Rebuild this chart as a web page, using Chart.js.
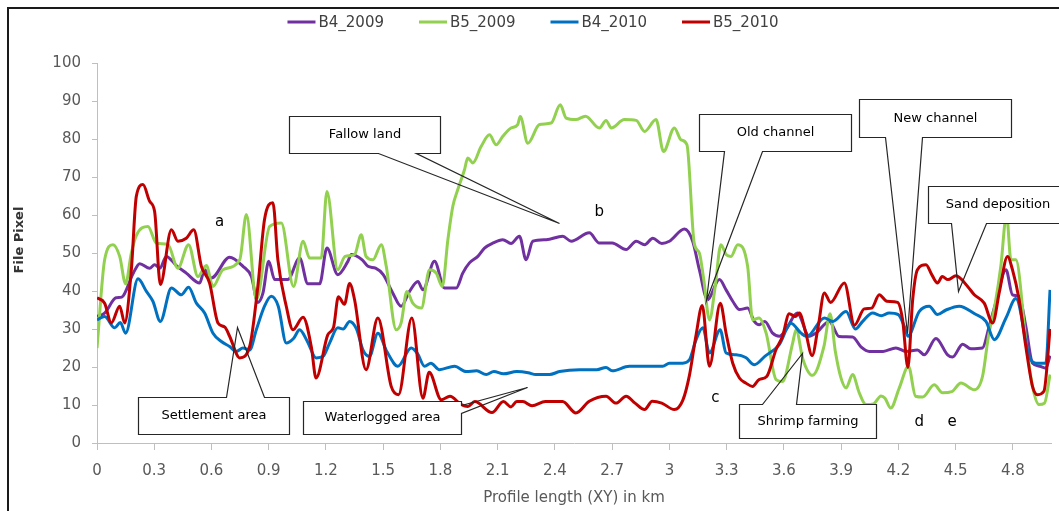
<!DOCTYPE html>
<html><head><meta charset="utf-8">
<script src="https://cdn.jsdelivr.net/npm/chart.js@4.4.1/dist/chart.umd.min.js"></script>
<style>html,body{margin:0;padding:0;background:#fff;}canvas{display:block;}</style>
</head><body>
<canvas id="c" width="1059" height="511"></canvas>
<script>
// ---- data (km, file pixel) ----
const seriesNames = ['B4_2009', 'B5_2009', 'B4_2010', 'B5_2010'];
const xTickValues = [0,0.3,0.6,0.9,1.2,1.5,1.8,2.1,2.4,2.7,3.0,3.3,3.6,3.9,4.2,4.5,4.8];
const yTickStep = 10;

const B4_2009 = [[0,33.3],[0.04,34.2],[0.1,38.2],[0.13,38.4],[0.19,44.7],[0.224,47.2],[0.276,46],[0.302,46.9],[0.33,46],[0.363,49.1],[0.416,46.7],[0.468,44.7],[0.538,42.1],[0.564,45.6],[0.599,43.4],[0.695,48.9],[0.765,46.5],[0.809,43.8],[0.843,37],[0.87,39.5],[0.9,47.8],[0.931,43],[1.0,43],[1.062,48.7],[1.105,41.9],[1.167,41.9],[1.205,51.3],[1.262,44.3],[1.315,47.8],[1.333,49.6],[1.39,48.2],[1.42,46.5],[1.46,46],[1.5,44.3],[1.55,39.5],[1.594,36],[1.638,39.9],[1.682,42.5],[1.708,40.3],[1.769,47.8],[1.821,40.8],[1.883,40.8],[1.917,44.7],[1.952,47.4],[1.996,49.1],[2.031,51.3],[2.074,52.6],[2.127,53.5],[2.17,52.5],[2.214,54.4],[2.249,48.2],[2.284,53.1],[2.354,53.5],[2.441,54.4],[2.485,53.1],[2.58,55.3],[2.633,52.6],[2.7,52.6],[2.773,50.9],[2.826,53.1],[2.87,52.2],[2.913,53.9],[2.96,52.5],[3.0,53.1],[3.079,56.3],[3.122,53.1],[3.157,45.6],[3.2,37.7],[3.262,43],[3.297,40.3],[3.332,37.3],[3.367,35.1],[3.41,35.5],[3.445,32],[3.471,31.1],[3.5,32],[3.541,28.9],[3.576,28.1],[3.611,29.8],[3.67,34.2],[3.733,28.1],[3.768,28.9],[3.838,32],[3.89,28],[3.96,27.9],[4.004,25.3],[4.048,24.1],[4.12,24.1],[4.187,25],[4.24,24.1],[4.3,24.5],[4.336,23.2],[4.397,27.5],[4.458,23.2],[4.484,22.6],[4.537,26],[4.58,24.8],[4.641,25],[4.676,30.7],[4.711,37],[4.764,45.6],[4.798,39],[4.833,38.6],[4.868,30.7],[4.903,21],[4.94,20.2],[4.973,19.7],[4.995,23]];

const B5_2009 = [[0,25],[0.04,48.2],[0.084,52.2],[0.119,49.1],[0.15,41.9],[0.18,50],[0.206,54.6],[0.267,57],[0.311,52.6],[0.372,52.2],[0.424,46],[0.48,52.2],[0.529,43.8],[0.573,46.7],[0.608,41.2],[0.66,45.6],[0.748,48.2],[0.783,60.1],[0.835,37.7],[0.905,57],[0.966,57.9],[1.03,41.2],[1.08,53.1],[1.114,48.7],[1.175,48.7],[1.205,66.2],[1.262,45.6],[1.3,49.1],[1.35,49.6],[1.385,54.8],[1.41,49.1],[1.446,48.2],[1.49,52.2],[1.516,46.5],[1.568,29.8],[1.594,31.6],[1.624,39.9],[1.655,36.8],[1.7,35.5],[1.743,45.6],[1.778,44.7],[1.81,41.2],[1.839,53.5],[1.865,62.3],[1.891,66.7],[1.926,71.9],[1.943,75],[1.97,73.7],[2.013,78],[2.057,81.1],[2.092,78.5],[2.127,80.7],[2.17,82.9],[2.205,83.8],[2.218,85.9],[2.258,78.9],[2.319,83.8],[2.38,84.2],[2.428,89],[2.459,85.5],[2.51,85.1],[2.56,86],[2.633,82.9],[2.668,84.9],[2.695,82.9],[2.764,85.1],[2.826,84.9],[2.87,82],[2.93,85.1],[2.969,76.7],[3.026,82.9],[3.061,79.8],[3.092,78.5],[3.13,52.6],[3.157,50],[3.18,43],[3.21,32.4],[3.24,41.2],[3.27,52.2],[3.297,49.6],[3.323,49.1],[3.358,52.2],[3.41,46.5],[3.436,32.4],[3.47,32.9],[3.507,28.9],[3.559,16.7],[3.593,16.2],[3.646,26.3],[3.664,29.8],[3.7,22],[3.75,17.8],[3.81,25.4],[3.842,34],[3.87,24],[3.9,17],[3.926,14.5],[3.96,18],[3.995,13.2],[4.03,10.1],[4.07,10.3],[4.109,12.4],[4.13,11.8],[4.16,9.2],[4.205,14.5],[4.253,20.2],[4.29,12.3],[4.327,12.1],[4.388,15.3],[4.432,13.2],[4.48,13.5],[4.528,15.8],[4.598,14],[4.641,17.5],[4.672,28],[4.707,36.5],[4.737,46.5],[4.767,60.1],[4.79,48.2],[4.816,48.2],[4.868,27.2],[4.903,14.9],[4.938,10.1],[4.966,10.5],[4.995,18]];

const B4_2010 = [[0,32.4],[0.04,33.3],[0.093,30.3],[0.122,31.7],[0.15,28.9],[0.215,43.2],[0.259,39.9],[0.293,37.3],[0.332,32],[0.39,40.8],[0.442,39],[0.48,41],[0.521,36.8],[0.564,34.2],[0.608,28.9],[0.652,26.7],[0.695,25.4],[0.73,24.1],[0.765,25],[0.8,24.5],[0.835,29.8],[0.878,36],[0.913,38.6],[0.95,36],[0.992,26.3],[1.03,27.5],[1.062,29.8],[1.1,27],[1.149,22.4],[1.185,22.8],[1.219,26.3],[1.262,30.3],[1.29,30],[1.324,32],[1.36,30],[1.393,24.6],[1.428,22.8],[1.472,28.9],[1.52,24],[1.577,20.2],[1.647,25],[1.68,23.5],[1.717,20.2],[1.75,21],[1.795,19.3],[1.874,20.2],[1.935,18.8],[1.99,19],[2.04,18],[2.08,18.8],[2.13,18.2],[2.2,18.8],[2.26,18.5],[2.3,18],[2.372,18],[2.424,18.8],[2.53,19.3],[2.62,19.3],[2.668,19.9],[2.7,19],[2.79,20.2],[2.965,20.2],[3.0,21],[3.07,21],[3.105,21.9],[3.14,27.2],[3.175,30.3],[3.21,23.7],[3.266,29.8],[3.297,23.7],[3.35,23.2],[3.4,22.5],[3.445,20.6],[3.5,22.8],[3.576,25.9],[3.637,31.5],[3.69,28.9],[3.72,28],[3.812,32.9],[3.856,32],[3.926,34.6],[3.975,30],[4.013,32],[4.065,34.2],[4.11,33.5],[4.152,34.2],[4.2,33.8],[4.231,30.7],[4.25,28.1],[4.309,34.6],[4.362,36],[4.405,33.8],[4.45,35],[4.519,36],[4.6,34],[4.659,32],[4.703,27.2],[4.764,32.9],[4.816,38],[4.886,22.8],[4.921,21],[4.973,21],[4.995,40.3]];

const B5_2010 = [[0,38.2],[0.04,36.8],[0.075,31.6],[0.119,36],[0.145,31.6],[0.18,45.6],[0.206,64.9],[0.241,68],[0.276,63.6],[0.302,60.9],[0.332,41.7],[0.39,56.1],[0.424,53.1],[0.468,53.9],[0.507,56.1],[0.547,46.5],[0.59,42.1],[0.634,31.6],[0.67,30.5],[0.695,28.1],[0.748,22.4],[0.8,25.4],[0.843,41.2],[0.878,58.8],[0.922,63.2],[0.948,48.2],[0.992,36],[1.027,29.8],[1.08,33.1],[1.123,25.4],[1.148,17.1],[1.21,28.5],[1.24,30.5],[1.265,38.5],[1.297,36.5],[1.324,42],[1.35,37.7],[1.41,19.3],[1.472,32.9],[1.542,14.9],[1.58,12.7],[1.65,32.9],[1.708,11.8],[1.741,18.6],[1.804,11.4],[1.85,12.3],[1.909,10.1],[1.944,9.6],[1.98,10.9],[2.07,8],[2.13,10.9],[2.17,9.5],[2.2,10.9],[2.232,10.9],[2.28,9.8],[2.35,10.9],[2.44,10.9],[2.51,7.9],[2.58,11],[2.668,12.3],[2.72,10.5],[2.773,12.3],[2.82,10.5],[2.87,8.8],[2.91,11],[2.96,10.5],[3.026,8.8],[3.07,11.2],[3.105,17.8],[3.14,28.5],[3.172,36.2],[3.21,20.2],[3.267,36.8],[3.297,28.9],[3.332,21],[3.367,17.1],[3.4,15.8],[3.436,14.9],[3.47,16.7],[3.51,17.5],[3.559,24.6],[3.593,28.1],[3.628,34],[3.66,33.3],[3.681,34.2],[3.715,28.9],[3.748,23],[3.78,30.7],[3.812,39.5],[3.845,37],[3.917,42.1],[3.97,31],[4.021,35.3],[4.06,35.5],[4.1,39],[4.14,37.3],[4.196,37],[4.222,32.5],[4.25,19.9],[4.275,37.7],[4.3,45.6],[4.345,46.9],[4.375,44.3],[4.405,42.1],[4.43,43.8],[4.46,43],[4.502,44],[4.563,41.2],[4.598,39],[4.65,36.8],[4.694,31.6],[4.73,39.9],[4.772,49.1],[4.798,45.6],[4.833,37.7],[4.868,25.4],[4.903,14.9],[4.929,12.7],[4.963,13.6],[4.995,30]];

// ---- annotation layer (data coordinates) ----
const callouts = [
  {text:'Fallow land', box:[1.004,1.8,86.13,76.39], side:'bottom', bases:[1.472,1.673], tip:[2.424,57.89]},
  {text:'Old channel', box:[3.155,3.953,86.53,76.74], side:'bottom', bases:[3.288,3.486], tip:[3.192,37.71]},
  {text:'New channel', box:[3.995,4.791,90.6,80.6], side:'bottom', bases:[4.131,4.325], tip:[4.243,28.95]},
  {text:'Sand deposition', box:[4.353,5.085,67.71,57.89], side:'bottom', bases:[4.476,4.659], tip:[4.51,39.89]},
  {text:'Settlement area', box:[0.213,1.004,12.18,2.45], side:'top', bases:[0.674,0.873], tip:[0.732,30.6]},
  {text:'Waterlogged area', box:[1.078,1.91,11.13,2.45], side:'right', bases:[10.08,7.97], tip:[2.256,14.82]},
  {text:'Shrimp farming', box:[3.367,4.084,10.34,1.39], side:'top', bases:[3.487,3.665], tip:[3.697,23.76]}
];
const pointLabels = [['a',0.643,58.24],['b',2.633,60.87],['c',3.241,11.92],['d',4.309,5.6],['e',4.482,5.6]];

const colors = ['#7030A0','#92D050','#0070C0','#C00000'];
const FONT = 'DejaVu Sans';
Chart.defaults.font.family = FONT;

const seriesData = [B4_2009, B5_2009, B4_2010, B5_2010];
const datasets = seriesData.map((arr, i) => ({
  label: seriesNames[i],
  data: arr.map(p => ({x: p[0], y: p[1]})),
  borderColor: colors[i],
  backgroundColor: colors[i],
  borderWidth: 3,
  pointRadius: 0,
  cubicInterpolationMode: 'monotone',
  order: 4 - i
}));

const framePlugin = {
  id: 'frame',
  beforeDraw(chart) {
    const ctx = chart.ctx;
    ctx.save();
    ctx.fillStyle = '#fff';
    ctx.fillRect(0, 0, chart.width, chart.height);
    ctx.strokeStyle = '#1a1a1a';
    ctx.lineWidth = 2;
    ctx.beginPath();
    ctx.moveTo(8, chart.height);
    ctx.lineTo(8, 8);
    ctx.lineTo(chart.width, 8);
    ctx.stroke();
    ctx.restore();
  },
  afterDraw(chart) {
    const ctx = chart.ctx;
    ctx.save();
    // legend
    ctx.font = '15px "' + FONT + '"';
    ctx.textBaseline = 'middle';
    const ds = chart.data.datasets;
    const boxW = 28, gap = 3, spacing = 35;
    const widths = ds.map(d => boxW + gap + ctx.measureText(d.label).width);
    const total = widths.reduce((a, b) => a + b, 0) + spacing * (ds.length - 1);
    let x = 533 - total / 2;
    const y = 22;
    ds.forEach((d, i) => {
      ctx.fillStyle = d.borderColor;
      ctx.fillRect(x, y - 1.5, boxW, 3);
      ctx.fillStyle = '#404040';
      ctx.textAlign = 'left';
      ctx.fillText(d.label, x + boxW + gap, y + 1);
      x += widths[i] + spacing;
    });
    // y axis title
    ctx.translate(20, 240);
    ctx.rotate(-Math.PI / 2);
    ctx.font = 'bold 13px "' + FONT + '"';
    ctx.fillStyle = '#333';
    ctx.textAlign = 'center';
    ctx.fillText('File Pixel', 0, 0);
    ctx.restore();
  }
};

const annotationPlugin = {
  id: 'callouts',
  afterDatasetsDraw(chart) {
    const ctx = chart.ctx;
    const xs = chart.scales.x, ys = chart.scales.y;
    const px = v => Math.round(xs.getPixelForValue(v)) + 0.5;
    const py = v => Math.round(ys.getPixelForValue(v)) + 0.5;
    ctx.save();
    callouts.forEach(c => {
      const L = px(c.box[0]), R = px(c.box[1]), T = py(c.box[2]), B = py(c.box[3]);
      const tx = px(c.tip[0]), ty = py(c.tip[1]);
      ctx.fillStyle = '#fff';
      ctx.fillRect(L, T, R - L, B - T);
      ctx.beginPath();
      if (c.side === 'bottom') {
        const b1 = px(c.bases[0]), b2 = px(c.bases[1]);
        ctx.moveTo(L, T); ctx.lineTo(R, T); ctx.lineTo(R, B); ctx.lineTo(b2, B);
        ctx.lineTo(tx, ty); ctx.lineTo(b1, B); ctx.lineTo(L, B);
      } else if (c.side === 'top') {
        const b1 = px(c.bases[0]), b2 = px(c.bases[1]);
        ctx.moveTo(L, T); ctx.lineTo(b1, T); ctx.lineTo(tx, ty); ctx.lineTo(b2, T);
        ctx.lineTo(R, T); ctx.lineTo(R, B); ctx.lineTo(L, B);
      } else {
        const b1 = py(c.bases[0]), b2 = py(c.bases[1]);
        ctx.moveTo(L, T); ctx.lineTo(R, T); ctx.lineTo(R, b1); ctx.lineTo(tx, ty);
        ctx.lineTo(R, b2); ctx.lineTo(R, B); ctx.lineTo(L, B);
      }
      ctx.closePath();
      ctx.strokeStyle = '#262626';
      ctx.lineWidth = 1.2;
      ctx.stroke();
      ctx.fillStyle = '#000';
      ctx.font = '13px "' + FONT + '"';
      ctx.textAlign = 'center';
      ctx.textBaseline = 'middle';
      ctx.fillText(c.text, (L + R) / 2, (T + B) / 2);
    });
    ctx.font = '15px "' + FONT + '"';
    ctx.fillStyle = '#000';
    ctx.textAlign = 'center';
    ctx.textBaseline = 'middle';
    pointLabels.forEach(p => ctx.fillText(p[0], xs.getPixelForValue(p[1]), ys.getPixelForValue(p[2])));
    ctx.restore();
  }
};

new Chart(document.getElementById('c'), {
  type: 'line',
  data: { datasets },
  options: {
    responsive: false,
    animation: false,
    devicePixelRatio: 1,
    layout: { padding: { left: 0, right: 8, top: 63, bottom: 0 } },
    plugins: { legend: { display: false }, tooltip: { enabled: false } },
    scales: {
      x: {
        type: 'linear', min: 0, max: 5.0,
        afterBuildTicks: s => { s.ticks = xTickValues.map(v => ({ value: v })); },
        afterFit: s => { s.height = 68; },
        ticks: { autoSkip: false, maxRotation: 0, minRotation: 0, padding: 12, color: '#595959',
                 font: { size: 15 }, callback: v => String(parseFloat(Number(v).toFixed(1))) },
        grid: { drawOnChartArea: false, drawTicks: true, tickLength: 7, color: '#bfbfbf' },
        border: { display: true, color: '#bfbfbf' },
        title: { display: true, text: 'Profile length (XY) in km', color: '#595959',
                 font: { size: 15 }, padding: { top: 0, bottom: 4 } }
      },
      y: {
        min: 0, max: 100,
        afterFit: s => { s.width = 97; },
        ticks: { stepSize: yTickStep, padding: 11, color: '#595959', font: { size: 15 } },
        grid: { drawOnChartArea: false, drawTicks: true, tickLength: 5, color: '#bfbfbf' },
        border: { display: true, color: '#bfbfbf' }
      }
    }
  },
  plugins: [framePlugin, annotationPlugin]
});
</script>
</body></html>
